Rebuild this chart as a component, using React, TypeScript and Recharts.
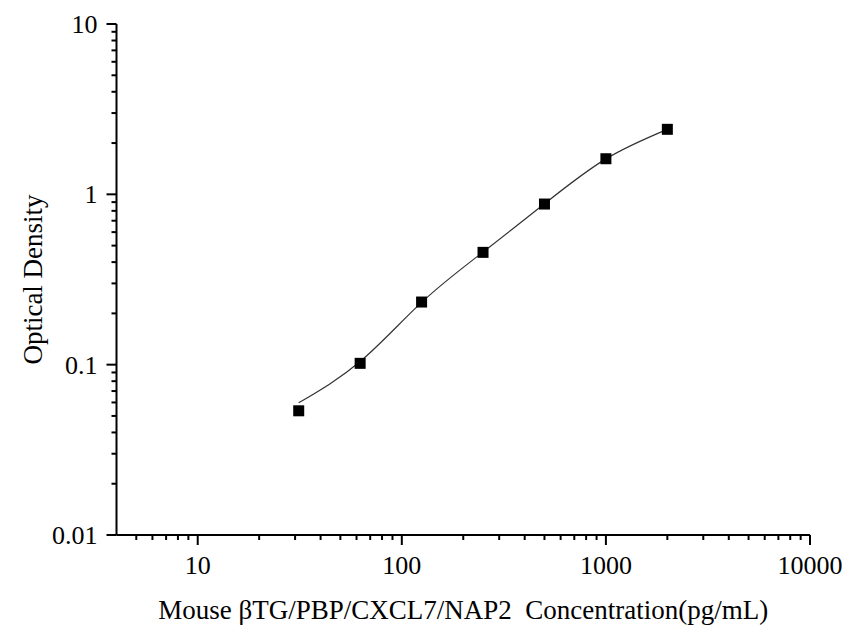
import React from 'react';
import { ComposedChart, Line, Scatter, XAxis, YAxis, Label } from 'recharts';

const concentrations = [31.25, 62.5, 125, 250, 500, 1000, 2000];
const opticalDensity = [0.0536, 0.1018, 0.2332, 0.4564, 0.877, 1.618, 2.408];
const fittedDensity = [0.0597, 0.1043, 0.232, 0.458, 0.88, 1.615, 2.408];

const xMajorTicks = [10, 100, 1000, 10000];
const xMinorTicks = [5, 6, 7, 8, 9, 20, 30, 40, 50, 60, 70, 80, 90, 200, 300, 400, 500, 600, 700, 800, 900, 2000, 3000, 4000, 5000, 6000, 7000, 8000, 9000];
const yMajorTicks = [0.01, 0.1, 1, 10];
const yMinorTicks = [0.02, 0.03, 0.04, 0.05, 0.06, 0.07, 0.08, 0.09, 0.2, 0.3, 0.4, 0.5, 0.6, 0.7, 0.8, 0.9, 2, 3, 4, 5, 6, 7, 8, 9];

const xTitle = 'Mouse \u03B2TG/PBP/CXCL7/NAP2  Concentration(pg/mL)';
const yTitle = 'Optical Density';

const pointData = concentrations.map((x, i) => ({ x, y: opticalDensity[i] }));
const fitData = concentrations.map((x, i) => ({ x, y: fittedDensity[i] }));

const FONT = '"Liberation Serif", "Times New Roman", serif';

const XTick = (props: any) => {
  const { x, y, payload } = props;
  const v = payload.value;
  const major = xMajorTicks.includes(v);
  return (
    <g>
      <line x1={x} y1={y} x2={x} y2={y + (major ? 10 : 5)} stroke="#000" strokeWidth={2} />
      {major && (
        <text x={x} y={y + 38.5} textAnchor="middle" fontSize={26} fontFamily={FONT} fill="#000">
          {String(v)}
        </text>
      )}
    </g>
  );
};

const YTick = (props: any) => {
  const { x, y, payload } = props;
  const v = payload.value;
  const major = yMajorTicks.some((m) => Math.abs(m - v) < 1e-9);
  return (
    <g>
      <line x1={x} y1={y} x2={x - (major ? 10 : 5)} y2={y} stroke="#000" strokeWidth={2} />
      {major && (
        <text x={x - 19} y={y + 9} textAnchor="end" fontSize={26} fontFamily={FONT} fill="#000">
          {String(v)}
        </text>
      )}
    </g>
  );
};

const XTitle = (props: any) => {
  const { viewBox } = props;
  const cx = viewBox.x + viewBox.width / 2;
  return (
    <text x={cx} y={viewBox.y + 84} textAnchor="middle" fontSize={27} fontFamily={FONT} fill="#000" style={{ whiteSpace: 'pre' }}>
      {xTitle}
    </text>
  );
};

const YTitle = (props: any) => {
  const { viewBox } = props;
  const cx = viewBox.x + 33;
  const cy = viewBox.y + viewBox.height / 2;
  return (
    <text
      x={cx}
      y={cy}
      transform={`rotate(-90, ${cx}, ${cy})`}
      textAnchor="middle"
      dominantBaseline="central"
      fontSize={27}
      fontFamily={FONT}
      fill="#000"
    >
      {yTitle}
    </text>
  );
};

const Square = (props: any) => {
  const { cx, cy } = props;
  return <rect x={cx - 5.5} y={cy - 5.5} width={11} height={11} fill="#000" />;
};

export default function App() {
  return (
    <div style={{ position: 'absolute', left: 0, top: 0, width: 864, height: 641, background: '#fff' }}>
      <ComposedChart width={864} height={641} margin={{ top: 24, right: 54, bottom: 46, left: 0 }}>
        <XAxis
          type="number"
          dataKey="x"
          scale="log"
          domain={[4, 10000]}
          ticks={[...xMajorTicks, ...xMinorTicks].sort((a, b) => a - b)}
          interval={0}
          tickSize={0}
          tickMargin={0}
          tickLine={false}
          tick={<XTick />}
          axisLine={{ stroke: '#000', strokeWidth: 2 }}
          height={60}
          allowDataOverflow
        >
          <Label content={<XTitle />} />
        </XAxis>
        <YAxis
          type="number"
          dataKey="y"
          scale="log"
          domain={[0.01, 10]}
          ticks={[...yMajorTicks, ...yMinorTicks].sort((a, b) => a - b)}
          interval={0}
          tickSize={0}
          tickMargin={0}
          tickLine={false}
          tick={<YTick />}
          axisLine={{ stroke: '#000', strokeWidth: 2 }}
          width={116.5}
          allowDataOverflow
        >
          <Label content={<YTitle />} />
        </YAxis>
        <Line
          data={fitData}
          dataKey="y"
          type="natural"
          stroke="#333"
          strokeWidth={1.2}
          dot={false}
          activeDot={false}
          isAnimationActive={false}
        />
        <Scatter data={pointData} dataKey="y" shape={<Square />} isAnimationActive={false} />
      </ComposedChart>
    </div>
  );
}
